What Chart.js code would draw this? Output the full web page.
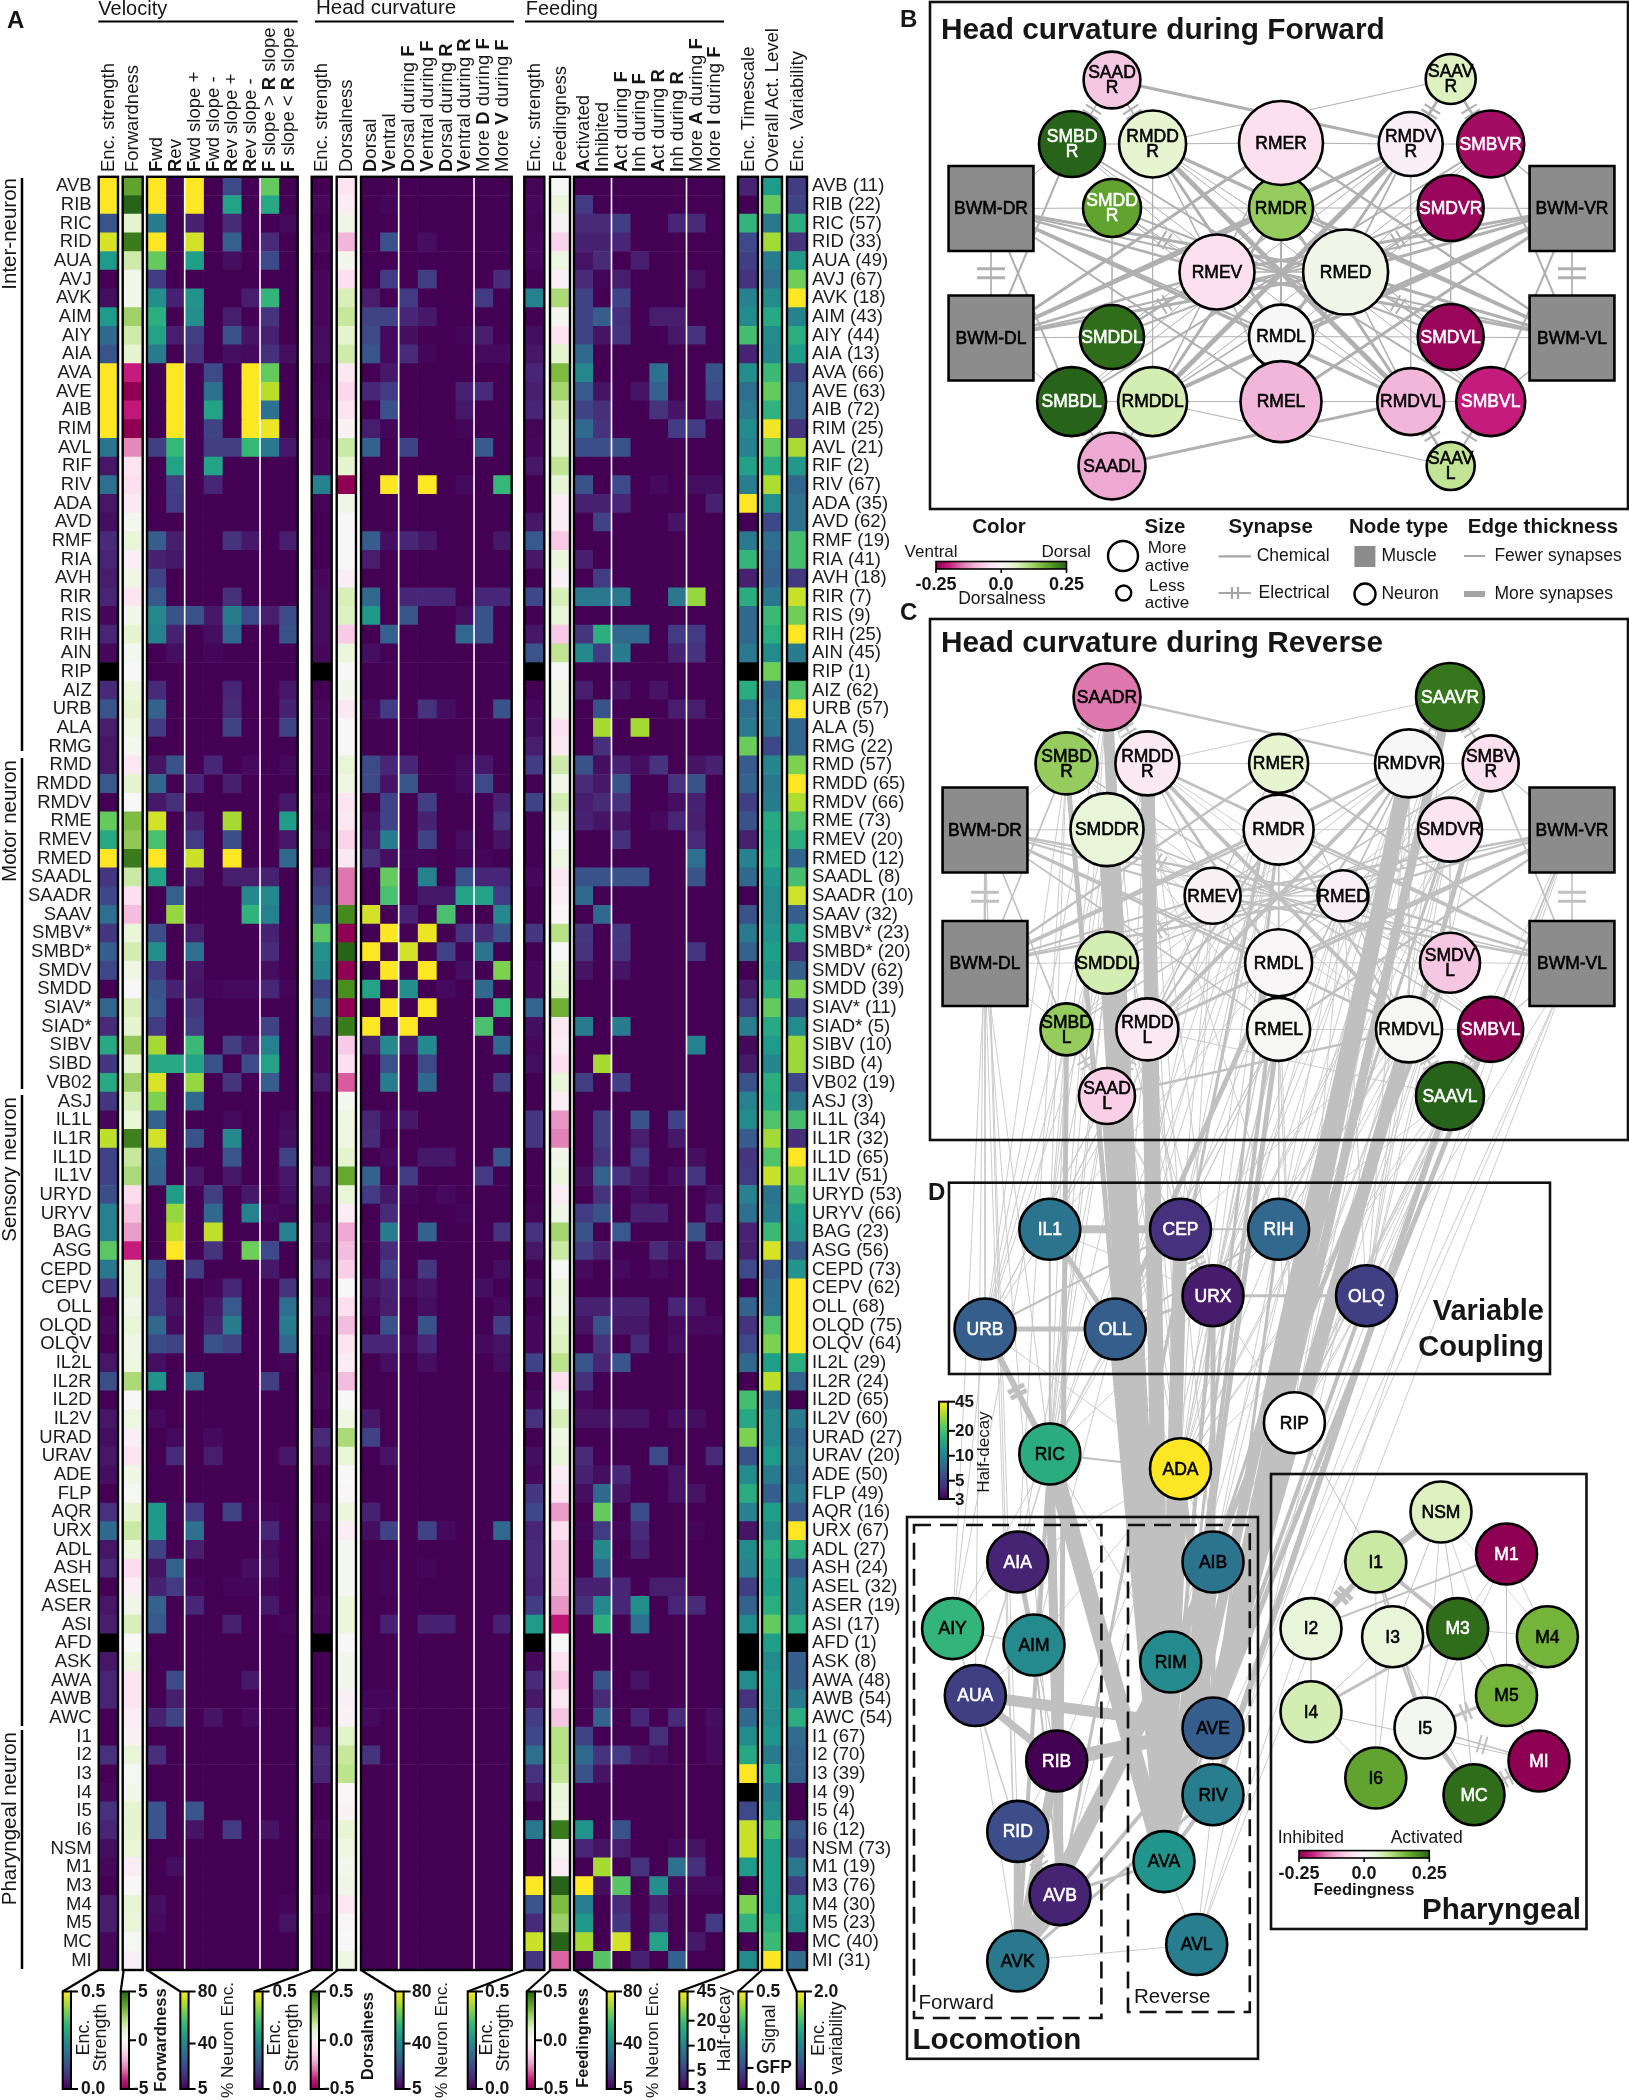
<!DOCTYPE html>
<html><head><meta charset="utf-8">
<script src="https://cdn.jsdelivr.net/npm/chart.js@4"></script>
<style>
html,body{margin:0;padding:0;background:#fff}
#page{position:relative;width:1629px;height:2100px;overflow:hidden;font-family:'Liberation Sans',Arial,sans-serif;color:#161616}
canvas{position:absolute}
.t{position:absolute;left:0;top:0;white-space:nowrap;line-height:1;transform-origin:0 0}
</style></head><body><div id="page"></div>
<script>
/* ---------- neurons ---------- */
const neuronNames=['AVB','RIB','RIC','RID','AUA','AVJ','AVK','AIM','AIY','AIA','AVA','AVE','AIB','RIM','AVL','RIF','RIV','ADA','AVD','RMF','RIA','AVH','RIR','RIS','RIH','AIN','RIP','AIZ','URB','ALA','RMG',
'RMD','RMDD','RMDV','RME','RMEV','RMED','SAADL','SAADR','SAAV','SMBV*','SMBD*','SMDV','SMDD','SIAV*','SIAD*','SIBV','SIBD','VB02',
'ASJ','IL1L','IL1R','IL1D','IL1V','URYD','URYV','BAG','ASG','CEPD','CEPV','OLL','OLQD','OLQV','IL2L','IL2R','IL2D','IL2V','URAD','URAV','ADE','FLP','AQR','URX','ADL','ASH','ASEL','ASER','ASI','AFD','ASK','AWA','AWB','AWC',
'I1','I2','I3','I4','I5','I6','NSM','M1','M3','M4','M5','MC','MI'];
const neuronCounts=[11,22,57,33,49,67,18,43,44,13,66,63,72,25,21,2,67,35,62,19,41,18,7,9,25,45,1,62,57,5,22,
57,65,66,73,20,12,8,10,32,23,20,62,39,11,5,10,4,19,
3,34,32,65,51,53,66,23,56,73,62,68,75,64,29,24,65,60,27,20,50,49,16,67,27,24,32,19,17,1,8,48,54,54,
67,70,39,9,4,12,73,19,76,30,23,40,31];

/* ---------- single-column heat values (null = no data, drawn black) ---------- */
const velEnc=[.5,.5,.13,.47,.27,0,.02,.27,.17,.13,.5,.5,.5,.5,.19,.03,.18,.03,.02,.06,.05,.04,.05,.01,.05,.01,null,.06,.13,.04,.03,
.03,.14,0,.38,.3,.5,.08,.11,.18,.08,.15,.11,0,.16,.06,.3,.08,.3,
.08,.01,.45,.1,.1,.12,.22,.22,.37,.2,.08,0,.01,0,.03,.12,0,.03,.02,.03,.02,0,.07,.17,.03,.06,0,.03,.04,null,.03,.05,.05,0,
0,.07,0,.01,.07,.05,.02,.01,0,.04,.04,.01,.01];
const forwardness=[3.6,5,1,4.5,1.5,.3,.3,2.4,1.5,1,-4,-5,-4.1,-5,-2.7,-.8,-1,-.6,.2,.8,-.4,.5,-.8,.3,1,.2,0,.7,1,.6,.2,
-.7,1,0,3,2.7,4.5,1.6,-1,-1.8,.8,1.4,.5,0,1.3,1,2.7,1,2.5,
1.3,.8,4.4,1.7,2.2,-1.1,-1.7,-2.4,-4,.9,.9,.4,.8,.4,.6,2.2,0,.6,-.4,-.8,.5,.1,1,1.6,.7,-1.1,-.4,.4,1.3,0,.7,-.8,-.8,-.4,
-.2,.8,.1,.3,1,1,.8,-.5,0,.9,.8,.1,-.3];
const headEnc=[0,.01,0,.01,0,.01,.01,.01,.015,.02,0,.005,.01,0,.01,.01,.22,.005,0,0,0,.01,.015,.015,.015,.01,null,0,.01,.01,.01,
.01,0,.01,.005,.02,0,.07,.1,.15,.37,.25,.23,.1,.16,.08,.01,.01,.04,
0,0,0,0,.06,.02,.005,.03,.02,.05,.01,.03,.01,0,0,.01,.01,0,.06,.03,0,0,.02,.005,0,0,0,.01,.005,null,0,0,0,0,
.03,.06,.05,0,0,.01,0,0,0,.01,0,0,0];
const dorsalness=[-.08,-.05,.04,-.2,.03,-.1,.13,.17,.1,.15,-.06,-.12,-.08,-.02,.16,.1,-.5,.04,0,0,0,-.04,.13,.12,-.15,.07,0,.03,-.06,0,0,
.08,.05,-.08,-.06,-.13,-.06,-.3,-.3,.42,-.5,.5,-.5,.41,-.5,.45,-.15,-.1,-.33,
.02,.06,.05,.1,.35,.08,-.05,-.22,-.18,-.14,0,-.1,-.18,-.08,-.05,-.18,0,.05,.22,.08,0,-.01,.07,-.05,.02,.02,.02,.07,.07,0,.03,.03,-.03,-.02,
.11,.17,.19,-.01,-.02,.09,.05,.03,.04,-.07,-.01,0,.06];
const feedEnc=[.005,.01,.005,.01,.01,0,.22,0,.02,.03,.05,.04,.05,.005,.01,.03,0,0,.03,.14,.03,0,.11,0,.03,.13,null,0,.01,.02,.04,
.09,0,.1,0,0,0,.01,0,0,.08,0,.01,.01,.16,.02,.01,.02,0,
0,.08,.08,0,0,0,.005,.07,.03,0,.02,0,.01,.01,.1,0,.01,.07,0,.02,.01,.08,.11,.05,.06,.06,.05,.09,.27,null,.01,.06,.03,.09,
.11,.18,.07,.03,0,.2,0,0,.5,.13,.06,.46,.08];
const feedingness=[.01,.07,-.02,-.13,.06,-.03,.22,.02,-.08,.1,.3,.23,.14,.1,.09,.18,.09,-.05,-.05,-.15,.07,-.03,.13,.08,-.15,.18,0,.03,.03,-.09,-.06,
.15,.03,.14,.07,0,.06,-.06,-.03,-.01,.2,0,.07,.1,.33,-.06,-.05,-.1,.08,
-.05,-.25,-.28,.03,.07,-.05,.04,.23,.16,.01,.07,.04,.1,.12,.19,-.1,.06,.13,.05,.08,-.05,-.08,-.24,-.1,-.16,-.16,-.17,-.25,-.42,0,-.08,-.15,-.07,-.16,
.2,.2,.18,.08,.06,.45,.02,-.05,.5,.3,.25,.5,-.32];
const timescale=[3.9,3,17.5,5.5,5,4.5,10,11,20,3.9,11.5,8,9,11,10,14,9.5,45,3,9,18,3.8,16,7.5,7.5,9,null,16,8,9,24,
6.5,7,5,6,3.8,10,7.5,3,6,9,7,3,3.7,4.8,9.5,3.2,3.6,6,
10,11,6.5,4.6,4.8,10,8,3.9,3.8,5.5,3,7,4.5,5.5,7.5,3,20,15,26,6,11,16,10,3.5,11,10,5,7,11,null,null,11,4.5,7.5,
11,15,45,null,5.5,36,36,13,3,26,17,3,11];
const activity=[.27,.38,.2,.43,.21,.18,.24,.3,.24,.23,.34,.38,.32,.49,.38,.3,.44,.25,.11,.18,.16,.15,.2,.34,.31,.24,.39,.17,.2,.19,.11,
.23,.2,.21,.3,.29,.3,.26,.24,.24,.26,.28,.26,.3,.38,.3,.27,.23,.31,
.3,.36,.43,.36,.46,.19,.21,.34,.47,.14,.17,.18,.36,.4,.28,.45,.2,.24,.24,.27,.21,.15,.28,.24,.31,.29,.28,.31,.38,.28,.24,.26,.25,.24,
.26,.21,.3,.21,.24,.35,.28,.28,.28,.27,.31,.34,.5];
const variability=[.36,.4,1.24,.3,1.06,1.56,2,.9,1.24,1.1,.4,.64,.64,.3,1.74,1.06,.66,.76,.76,1.4,1.4,.34,1.84,1.56,2,.84,null,1.44,2,.66,.66,
1.6,2,1.76,1.44,1.24,.66,1.4,1.86,.6,1.16,.24,.6,1.6,.4,.96,1.7,1.7,.44,
.8,1.4,.26,2,1.64,1.4,1.1,1.04,.56,1.04,2,2,2,2,1.24,.64,0,.84,.66,.76,.66,.84,.56,2,1.24,.56,.9,.9,1.24,null,.6,.6,.84,1.24,
.7,.64,.64,0,0,.56,.4,.8,.36,1.04,.96,0,.7];

/* ---------- % neuron encoding, one row per neuron, eight columns ---------- */
const z=[0,0,0,0,0,0,0,0];
const velPct=[
[80,0,80,0,22,0,62,0],[80,0,80,0,48,0,50,0],[36,0,12,0,14,0,0,7],[80,0,75,0,28,0,14,0],[62,0,47,0,8,0,22,0],
[18,0,0,0,0,0,0,0],[42,12,43,0,0,11,54,0],[52,0,42,0,11,0,16,0],[48,11,19,0,24,9,12,0],[36,0,16,0,8,7,15,8],
[0,80,0,22,0,80,62,0],[0,80,0,33,0,80,72,0],[0,80,0,48,0,80,33,0],[0,80,0,20,0,80,78,0],[19,55,0,19,19,55,35,10],
[0,48,0,48,0,0,0,0],[0,19,0,13,0,0,0,0],[0,18,0,0,0,0,0,0],z,[27,11,0,0,16,10,0,11],
[12,10,0,0,0,0,0,0],[20,0,0,0,0,0,0,0],[26,0,0,0,15,0,0,0],[40,24,24,10,36,22,11,22],[38,12,0,8,30,0,0,24],
[0,8,0,6,0,0,0,0],z,[14,0,0,0,13,0,0,10],[28,0,0,0,14,0,0,12],[18,0,0,0,20,0,0,20],z,
[9,24,0,13,0,7,0,7],[30,0,13,0,11,0,0,0],[10,15,0,0,0,0,0,10],[75,0,12,0,70,0,0,46],[58,0,18,0,23,0,0,10],
[80,0,74,0,80,0,0,30],[48,0,11,0,11,11,12,0],[0,28,0,0,0,40,40,0],[0,68,0,0,0,53,38,0],[23,0,11,0,0,0,12,0],
[42,0,33,0,0,0,14,0],[18,0,10,0,0,0,8,0],[24,12,9,6,7,7,13,6],[26,0,17,0,0,0,0,0],[18,0,19,0,0,0,20,0],
[70,0,56,0,19,10,38,0],[50,50,48,24,0,22,48,0],[76,0,68,0,16,0,27,0],
[65,0,30,0,0,0,0,0],[28,5,0,5,7,0,0,7],[75,0,24,0,40,0,0,8],[30,0,0,0,25,0,0,20],[28,0,10,0,10,0,0,10],
[0,46,0,19,0,10,0,8],[0,68,0,30,0,38,7,6],[0,73,0,73,0,0,0,38],[0,80,0,16,0,63,22,0],[24,0,19,0,0,0,10,0],
[18,0,0,6,13,0,0,16],[18,9,0,10,26,0,0,32],[30,7,0,12,36,0,0,36],[22,20,0,24,20,0,0,30],[8,0,0,0,0,0,0,6],
[43,0,30,0,0,0,19,0],z,[7,0,0,0,0,0,0,0],[0,7,0,7,0,0,0,0],[0,14,0,11,0,0,0,10],
z,z,[45,6,18,0,20,6,6,0],[45,0,33,0,0,0,13,0],[20,0,11,0,0,0,8,0],
[9,28,0,0,0,8,9,0],[12,18,6,0,6,6,6,0],[28,0,13,0,0,0,10,0],[26,0,0,0,12,0,0,6],z,
z,[0,22,0,0,0,10,0,0],[0,11,0,0,0,0,0,0],[12,20,0,9,0,7,0,0],
z,[15,0,0,0,0,0,0,0],z,z,[25,0,25,0,0,0,0,0],[25,0,9,0,18,0,9,0],z,[0,8,0,0,0,0,0,0],z,
[8,0,0,0,5,0,0,6],[7,0,0,0,0,0,0,9],z,z];
const headPct=[
z,[0,6,0,0,0,0,0,0],z,[0,24,0,8,0,0,0,0],[4,0,3,0,0,0,3,0],
[0,18,0,19,0,0,0,14],[11,0,18,0,0,0,18,0],[20,20,13,10,0,0,0,5],[22,7,8,0,0,6,11,0],[25,7,14,6,0,0,7,7],
[0,10,0,0,0,3,0,0],[13,18,3,0,0,12,14,0],[0,24,0,0,0,10,0,0],[11,6,0,0,0,6,0,0],[28,0,20,0,0,0,26,0],
z,[0,80,0,80,0,7,0,55],z,z,[27,8,13,10,0,0,0,10],
[11,0,0,0,0,0,0,0],z,[30,0,13,13,13,0,13,13],[45,0,25,0,0,8,24,0],[0,28,0,0,0,30,24,0],
[8,0,3,0,0,0,0,0],z,[4,0,0,0,0,0,0,0],[7,18,0,16,8,0,0,24],z,z,
[22,13,13,0,0,7,10,0],[22,9,25,0,0,7,22,0],[0,20,0,19,0,0,0,12],[8,20,0,12,0,0,0,16],[10,36,0,20,0,8,0,9],
[15,8,6,6,0,6,6,0],[0,62,0,38,0,24,13,13],[0,58,0,10,10,48,48,18],[75,0,12,0,58,0,0,40],[0,80,0,78,0,16,14,24],
[80,0,75,0,20,0,34,0],[0,80,0,80,0,8,0,65],[48,0,42,0,7,0,30,0],[0,80,0,80,0,0,0,55],[80,0,80,0,0,0,58,0],
[11,40,10,40,0,0,0,30],[0,24,0,22,0,0,0,0],[0,36,0,30,0,0,0,19],
z,[13,7,10,5,0,0,0,0],[14,0,0,0,0,0,0,0],[0,7,0,10,10,0,0,25],[28,0,18,0,4,4,18,0],
[18,10,6,0,7,5,0,0],[0,14,0,0,0,6,0,0],[0,36,0,28,0,0,0,16],[0,14,0,0,0,0,0,0],[0,20,0,17,0,0,0,8],
[9,12,7,9,0,4,8,0],[7,11,0,8,0,0,0,7],[0,24,0,24,0,0,0,19],[13,13,7,13,4,0,7,9],[0,8,0,8,0,0,0,8],
z,z,[10,4,0,0,0,0,0,0],[20,0,0,0,0,0,0,0],[0,9,0,0,0,0,0,0],
z,z,[12,0,3,0,3,0,0,0],[8,20,0,20,7,0,0,30],z,
[0,6,0,6,0,0,0,0],[0,6,0,0,0,0,0,0],z,[3,12,0,12,12,3,0,12],z,
z,z,[6,6,0,0,0,0,0,0],[7,4,0,0,0,0,0,0],
z,[16,0,0,0,0,0,0,0],z,z,z,z,z,z,[3,0,0,0,0,0,0,0],z,z,z,z];
const feedPct=[
z,[18,0,0,0,0,0,0,0],[14,14,19,0,0,13,14,0],[12,12,13,0,0,0,0,0],[9,14,0,11,0,0,0,0],
[14,6,11,0,0,0,9,0],[20,0,20,0,0,0,0,0],[20,27,15,0,11,11,0,0],[20,9,16,0,0,10,16,0],[30,0,0,0,0,0,0,0],
[40,0,0,0,33,0,0,24],[26,9,0,9,28,0,0,22],[20,15,0,0,16,9,0,12],[30,16,0,0,0,18,18,0],[23,23,24,0,0,0,0,0],
z,[24,0,22,0,7,0,8,8],[12,12,13,0,0,0,0,12],[0,20,0,0,0,9,0,0],z,
[11,0,0,0,0,0,0,0],[0,18,0,0,0,0,0,0],[35,35,35,0,0,35,68,0],z,[17,52,30,30,0,18,18,0],
[40,18,36,0,0,12,16,0],z,[11,0,9,0,9,0,0,0],[0,24,0,0,0,11,11,0],[0,70,0,70,0,0,0,0],[0,15,0,0,0,0,0,0],
[24,8,12,8,16,0,9,12],[14,10,24,0,0,16,24,0],[11,14,16,0,0,8,12,0],[12,9,9,0,7,13,11,0],[0,0,15,0,0,0,14,0],
[0,0,0,0,0,0,32,0],[24,24,24,24,0,0,24,0],[30,0,0,0,0,0,0,0],[0,30,0,0,0,0,0,0],[17,0,17,0,0,0,0,0],
[16,0,16,0,0,0,17,0],[9,0,9,0,0,0,0,0],z,z,[36,0,36,0,0,0,0,0],
[0,0,0,0,0,0,38,0],[0,70,0,0,0,0,0,0],[19,0,19,0,0,0,0,0],
z,[0,19,0,24,0,20,0,0],[0,19,0,11,0,10,0,0],[0,16,0,18,0,0,8,0],[8,28,16,10,0,8,17,0],
[0,16,0,8,0,0,0,8],[18,24,0,12,12,0,0,13],[24,0,26,0,0,0,24,0],[18,12,0,0,14,8,0,14],[7,0,7,0,7,0,0,0],
[5,5,0,0,0,0,0,0],[12,12,12,12,0,13,10,0],[9,24,10,10,5,7,7,7],[0,16,0,14,0,8,0,0],[25,13,25,0,0,0,0,0],
[15,0,0,0,0,0,0,0],[7,0,0,0,0,0,0,0],[9,9,9,9,0,8,8,0],z,[14,0,0,0,22,0,0,14],
[12,8,13,0,0,9,0,0],[8,30,9,0,0,9,9,0],[0,62,0,22,0,0,0,0],[6,18,6,14,0,0,6,0],[0,40,0,12,0,0,0,0],
[0,30,0,0,0,0,0,0],[12,12,13,0,11,11,0,0],[15,40,13,42,0,13,14,0],[0,52,0,32,0,0,0,0],z,
z,[0,24,0,9,0,0,0,0],[0,14,0,0,0,0,0,0],[0,28,0,13,0,14,0,8],
[20,0,0,0,15,0,0,7],[30,16,18,10,8,0,0,7],[24,9,0,0,0,0,0,0],z,z,[44,0,24,0,0,0,0,0],[13,9,11,0,0,7,9,0],
[0,70,0,16,0,33,15,0],[80,8,60,0,42,7,7,7],[37,0,14,0,12,0,0,0],[45,0,17,0,15,0,0,18],[70,0,75,0,48,0,10,0],[0,60,0,12,0,28,0,0]];

/* ---------- column headers ---------- */
const velLabels=['<b>F</b>wd','<b>R</b>ev','<b>F</b>wd slope +','<b>F</b>wd slope -','<b>R</b>ev slope +','<b>R</b>ev slope -','<b>F</b> slope &gt; <b>R</b> slope','<b>F</b> slope &lt; <b>R</b> slope'];
const headLabels=['<b>D</b>orsal','<b>V</b>entral','<b>D</b>orsal during <b>F</b>','<b>V</b>entral during <b>F</b>','<b>D</b>orsal during <b>R</b>','<b>V</b>entral during <b>R</b>','More <b>D</b> during <b>F</b>','More <b>V</b> during <b>F</b>'];
const feedLabels=['<b>A</b>ctivated','<b>I</b>nhibited','<b>A</b>ct during <b>F</b>','<b>I</b>nh during <b>F</b>','<b>A</b>ct during <b>R</b>','<b>I</b>nh during <b>R</b>','More <b>A</b> during <b>F</b>','More <b>I</b> during <b>F</b>'];

/* ---------- network nodes: graph coordinates, size, colour value ---------- */
const bNames=['SAAD|R','SMBD|R','RMDD|R','SMDD|R','RMDR','RMER','RMEV','RMED','RMDL','RMEL','SMDDL','SMBDL','RMDDL','SAADL','SAAV|R','RMDV|R','SMBVR','SMDVR','SMDVL','RMDVL','SMBVL','SAAV|L'];
const bX=[1112,1072,1152.6,1112,1281,1281,1217,1345.6,1281,1281,1112,1071.6,1152.6,1112,1450.7,1410.7,1490.7,1450.7,1450.7,1410.7,1490.7,1450.7];
const bY=[80,144,144,208,208,143,272,272,336.6,401.6,337,401.6,401.6,466,79,144,144,208,337,401.6,401.6,466];
const bR=[28.4,33,33.5,29,32,42,37.5,42.5,32,40.5,32,34.5,34.5,33.5,25,32,33.5,33,33,33.5,34.5,24];
const bDorsal=[-.08,.25,.05,.18,.13,-.05,-.05,.02,0,-.1,.24,.25,.07,-.11,.06,-.02,-.23,-.24,-.24,-.1,-.2,.09];
const bWhite=['SMBDR','SMDDR','SMDDL','SMBDL','SMBVR','SMDVR','SMDVL','SMBVL'];
const cNames=['SAADR','SAAVR','SMBD|R','RMDD|R','RMER','RMDVR','SMBV|R','SMDDR','RMDR','SMDVR','RMEV','RMED','SMDDL','RMDL','SMDV|L','SMBD|L','RMDD|L','RMEL','RMDVL','SMBVL','SAAD|L','SAAVL'];
const cX=[1107,1450,1066.5,1147.4,1278.6,1409,1490.7,1107,1278.6,1450,1212.6,1343,1107,1278.6,1450,1066.5,1147.4,1278.6,1409,1490.7,1107,1450];
const cY=[697,697,763.4,763.4,763.4,763.4,763.4,829.6,829.6,829.6,895.8,895.8,962.8,962.8,962.8,1029.4,1029.4,1029.4,1029.4,1029.4,1096,1096];
const cR=[33.5,34,31,32,29.5,34,28,36.5,35,32,28,25.5,31,33.5,30,26,31,31.5,33,32.5,28,34];
const cDorsal=[-.15,.23,.13,-.03,.05,0,-.05,.04,-.01,-.04,-.01,-.02,.07,-.005,-.08,.13,-.03,.003,.003,-.25,-.07,.25];
const cWhite=['SAAVR','SAAVL','SMBVL'];
const muscleNames=['BWM-DR','BWM-DL','BWM-VR','BWM-VL'];
const muscleXB=[991,991,1572,1572], muscleYB=[208.5,338,208.5,338];
const muscleXC=[985,985,1572,1572], muscleYC=[830,963.5,830,963.5];
const dNames=['IL1','CEP','RIH','URX','OLQ','URB','OLL','RIC','ADA','RIP','AIA','AIY','AIM','AUA','RIB','RID','AVB','AVK','AIB','RIM','AVE','RIV','AVA','AVL'];
const dX=[1049.8,1180.5,1278.6,1213,1366.5,985,1115.3,1049.8,1180.5,1294.4,1017.7,952.6,1034,975.3,1056.7,1017.7,1060,1017.7,1213,1170.7,1213,1213,1164,1196.7];
const dY=[1229.3,1229.3,1229.3,1295.7,1295.7,1329,1329,1454,1468.7,1422.7,1562,1628.6,1645,1695.5,1761,1831.4,1894.7,1961,1562,1662,1728,1794.7,1861.6,1944.5];
const dHalf=[8.4,4.4,7.3,3.7,5,6.7,6.7,16,45,null,3.9,17.5,10.9,5,3,5.7,3.9,8.9,8.4,10.9,6.7,9.4,12.3,9.4];
const dWhite=['IL1','CEP','RIH','URX','OLQ','URB','OLL','AIA','AUA','RIB','RID','AVB'];
const pNames=['NSM','M1','I1','I2','M3','I3','M4','M5','I4','I5','MI','I6','MC'];
const pX=[1441,1506.5,1375.8,1311,1457.7,1392.6,1547.4,1506.5,1311,1425,1539,1375.8,1474];
const pY=[1512,1554,1562,1628.6,1628.6,1636.7,1636.7,1695.5,1711.8,1728,1761,1778,1794.7];
const pFeed=[.06,-.25,.08,.04,.24,.04,.16,.16,.07,.01,-.25,.18,.24];
const pWhite=['M1','M3','MI','MC'];

/* ---------- network edges: [from, to, thickness, electrical flag] ---------- */
const edgesHead=[
['SAADR','RMDVR',3],['SAADL','RMDVL',3],['SAAVR','RMDDR',1],['SAAVL','RMDDL',1],
['RMDDR','RMER',1],['RMER','RMDVR',1],['BWM-DR','SMDDR',1.2],['SMDDR','RMDR',1],['RMDR','SMDVR',1],['SMDVR','BWM-VR',1.2],
['RMEV','RMED',1.5],['BWM-DL','SMDDL',1],['SMDDL','RMDL',1],['RMDL','SMDVL',1],['SMDVL','BWM-VL',1],['RMDDL','RMEL',1],['RMEL','RMDVL',1],
['RMDDR','RMDDL',.8],['RMDVR','RMDVL',.8],['RMDR','RMDL',2],['SMDDR','SMDDL',.8],['SMDVR','SMDVL',.8],['SMBDR','RMDDR',1],['SMBVR','RMDVR',1],['SMBDL','RMDDL',1],['SMBVL','RMDVL',1],
['BWM-DR','BWM-DL',1,1],['BWM-VR','BWM-VL',1,1],['SAADR','SMBDR',1.5,1],['SAADR','RMDDR',1.5,1],['SAAVR','RMDVR',3,1],['SAAVR','SMBVR',2.5,1],['SAADL','SMBDL',1.5,1],['SAADL','RMDDL',1.5,1],['SAAVL','RMDVL',2.5,1],['SAAVL','SMBVL',2,1],
['RMEV','SMDDL',1.5,1],['RMED','SMDVL',1.5,1],['RMEV','SMDDR',1,1],['RMED','SMDVR',1,1],['RMDDR','RMEL',1.5,1],['RMDVR','RMEL',1.5,1],
['RMDDR','RMDVL',5],['RMDDL','RMDVR',5],['SMBDR','SMBVL',2],['SMBDL','SMBVR',2],['SMDDR','SMDVL',2],['SMDDL','SMDVR',2],['BWM-DR','BWM-VL',2],['BWM-DL','BWM-VR',2],
['RMDVR','BWM-DL',4],['RMDVL','BWM-DR',3.5],['RMDDR','BWM-VL',3.5],['RMDDL','BWM-VR',4],
['RMER','BWM-DL',3],['RMEL','BWM-DR',2],['RMER','BWM-VL',2.5],['RMEL','BWM-VR',3],
['RMEV','BWM-VR',3],['RMEV','BWM-VL',3],['RMEV','BWM-DR',2.5],['RMEV','BWM-DL',2.5],['RMED','BWM-DR',3],['RMED','BWM-DL',3],['RMED','BWM-VR',3],['RMED','BWM-VL',3],
['RMDR','BWM-DL',3],['RMDR','BWM-VL',2],['RMDL','BWM-DR',2],['RMDL','BWM-VR',3],
['SMBDR','BWM-DL',2],['SMBDL','BWM-DR',2],['SMBVR','BWM-VL',2],['SMBVL','BWM-VR',2],['SMBDR','BWM-DR',1],['SMBDL','BWM-DL',1],['SMBVR','BWM-VR',1.5],['SMBVL','BWM-VL',1.5],
['RMDR','RMDVL',3],['RMDL','RMDVR',3],['RMDR','RMDDL',3],['RMDL','RMDDR',3],['RMER','RMDVL',1.5],['RMEL','RMDVR',1.5],['RMER','RMDDL',1.5],
['SMDDR','RMDL',1],['SMDVR','RMDL',1],['SMDDL','RMDR',1],['SMDVL','RMDR',1],['SMBDR','RMDVL',1],['SMBVR','RMDDL',1],['SMBDL','RMDVR',1],['SMBVL','RMDDR',1],
['SMDDR','RMDVL',1],['SMDVR','RMDDL',1.5],['SMDDL','RMDVR',1.5],['SMDVL','RMDDR',1],['SMBDR','RMEV',1],['SMBVR','RMED',1],['SMBDL','RMEV',1],['SMBVL','RMED',1]];
const edgesBundle=[
['SAADR','AVA',11],['SMDDR','AVA',18],['SMDDL','AVA',15],['SAADL','AVA',13],['RMDDR','AVA',14],['RMDDL','AVA',12],['SMBDR','AVA',5],['SMBDL','AVB',5],
['RMDVR','AVE',16],['RMDVR','AVA',10],['RMDVL','AVA',9],['RMDVL','AVE',12],['SAAVR','AVE',9],['SAAVL','RIV',6],['SMBVR','AVE',5],['SMBVL','AVE',5],['SMDVL','AIB',5],['SMDVR','AIB',3],
['RMDR','AVA',3],['RMDL','AVA',4],['RMEL','AVA',5],['RMER','AVB',3],['RMDL','OLL',5],['CEP','AVA',14],['IL1','CEP',8],['URB','OLL',5],['IL1','OLL',5],['OLL','URX',3],
['URB','RIC',6,1],['IL1','RIC',2],['RIC','AVK',4],['RIC','AVB',9],['RIC','RIB',8],['RIC','AVA',17],['AIA','AIM',5],['AIM','AVB',2],
['AUA','AVE',11],['RIB','AVE',14],['AUA','RIB',8],['AIB','AVA',18],['AIB','RIM',10],['RIM','AVE',6],['RIM','AVK',16],['RIB','AVK',10],['RID','AVK',8],['RID','AVB',2,1],['AVB','AVK',5],['AVB','RIM',3],['AVE','AVK',4],['RIV','AVK',3],['AIB','AVK',3],['AVB','AVA',3],['RIV','AVA',4],['RIM','AVA',16],
['OLQ','URX',3],['CEP','RIH',2],['CEP','URX',3,1],['URB','CEP',2],['RIH','OLL',2,1],['URX','AVE',5],['OLL','AVA',14],['URX','AVA',4],['RIH','AVE',3],['OLQ','AVE',4],['OLQ','AVA',2],['RIP','AVE',4],['RIP','AVA',3],['ADA','AVE',6],['ADA','AVA',16],['ADA','RIC',2],['ADA','RIM',3]];
const thinFans=[
['BWM-DR','AVK','RID','AUA','URB'],['BWM-DL','AVK','AVB','RIC','AIY'],['BWM-VR','AVE','RIV','AVL','RIP'],['BWM-VL','RIV','AVL','AVA','OLQ'],
['SMBDR','RMEL','URB','IL1','OLL','AIA'],['SMBDL','IL1','CEP','RIC','AIY'],['SMBVR','URX','RIH','OLQ','RIP'],['SMBVL','OLQ','AIB','RIM','ADA'],
['SMDDR','URB','IL1','CEP','OLL','RIC'],['SMDDL','URB','OLL','CEP','URX','RIC','ADA','AIM'],['SMDVR','RIH','OLQ','URX','RIP','AVL'],['SMDVL','URX','RIH','OLQ','RIP','ADA','AVA'],
['SAADR','IL1','URB','RIC','ADA','RMDL','RIH'],['SAADL','OLL','URB','RIC','CEP','ADA','AIA'],['SAAVR','RIH','OLQ','URX','RIP','RIM'],['SAAVL','RIH','OLQ','RIP','ADA','AVA','RIM'],
['RMDDR','URB','IL1','CEP','URX','OLL','ADA'],['RMDDL','IL1','CEP','OLL','URX','RIC','ADA'],['RMDVR','RIH','CEP','URX','OLQ','RIP','ADA','AIB'],['RMDVL','RIH','CEP','OLQ','RIP','ADA','AIB','RIM'],
['RMER','CEP','IL1','RIH','OLL','ADA','RIC'],['RMEL','CEP','OLL','URX','ADA','RIC','RIP','AVB'],['RMEV','URB','IL1','OLL','CEP','ADA'],['RMED','OLQ','URX','RIH','RIP','ADA'],
['RMDR','IL1','RIH','URX','CEP','OLL','RIC'],['RMDL','IL1','RIH','URX','CEP','RIP','ADA'],
['IL1','URB','URX','ADA'],['URB','ADA','AIY'],['OLL','RIC','ADA','CEP','RIH','AIM'],['CEP','ADA','RIC','AIB'],['URX','RIH','ADA','RIP'],['RIH','OLQ','RIP','ADA','AIB','RIC'],['OLQ','RIP','ADA','RIM'],
['RIC','ADA','AIA','AIM','AUA','AIY','RIM'],['ADA','AIB','AIA','AIM','RIB'],['AIA','AIY','AUA','RIB'],['AIY','AIM','AUA','RID'],['AIM','AUA','RIB'],['AUA','RID','AVK'],['RIB','RID','AVB'],['AVK','AVL'],['AVA','AVL'],['RIV','AVL','AVE']];
const edgesPharynx=[
['I1','NSM',6],['I2','I1',6,1],['NSM','I3',1],['NSM','M3',1],['NSM','I5',.8],['NSM','M5',.8],['I1','M3',4],['I1','I5',2],['I1','I3',1.5],['I2','M1',2],['I2','I4',.8],['I4','M3',3],['I4','I3',1],['I4','MI',1],['I4','I6',.8],['I3','I6',.8],['I3','I5',3],['I3','MC',1],['I3','M3',1],
['I5','M5',3,1],['I5','MC',5],['I5','MI',1.5,1],['I5','M3',1],['M3','M5',1],['M5','M4',3,1],['M1','M5',1],['M1','M4',.8],['M1','M3',.8],['M5','MI',1],['MC','MI',3,1],['I6','I5',.8],['M3','MC',1],['M3','M4',.8],['I5','M1',.8],['I6','I1',.8],['NSM','M4',.6]];
const edgesOutside=[['RIP','I1',1]];

/* ---------- colour maps ---------- */
const viridisStops=['#440154','#482878','#3e4989','#31688e','#26828e','#1f9e89','#35b779','#6ece58','#b5de2b','#fde725'];
const piygStops=['#8e0152','#c51b7d','#de77ae','#f1b6da','#fde0ef','#f7f7f7','#e6f5d0','#b8e186','#7fbc41','#4d9221','#276419'];
const hex=h=>[1,3,5].map(i=>parseInt(h.substr(i,2),16));
function ramp(stops,t){t=Math.max(0,Math.min(1,t));const p=t*(stops.length-1),i=Math.min(stops.length-2,Math.floor(p)),f=p-i,a=hex(stops[i]),b=hex(stops[i+1]);
  return 'rgb('+a.map((v,k)=>Math.round(v+(b[k]-v)*f)).join(',')+')';}
const KIND={
 enc:{s:viridisStops,n:v=>v/.5},fwd:{s:piygStops,n:v=>(v+5)/10},pct:{s:viridisStops,n:v=>(v-5)/75},dor:{s:piygStops,n:v=>v+.5},
 half:{s:viridisStops,n:v=>Math.log(v/3)/Math.log(15)},sig:{s:viridisStops,n:v=>v/.5},vari:{s:viridisStops,n:v=>v/2},leg:{s:piygStops,n:v=>(v+.25)/.5}};
const colorOf=(k,v)=>v===null||v===undefined?'#000':ramp(KIND[k].s,KIND[k].n(v));

/* ---------- page helpers ---------- */
const page=document.getElementById('page');
function T(html,x,y,o={}){const e=document.createElement('div');e.className='t';e.innerHTML=html;
  const a={l:0,c:50,r:100}[o.a||'l'];e.style.fontSize=(o.s||18)+'px';if(o.b)e.style.fontWeight='bold';if(o.col)e.style.color=o.col;
  e.style.transform=`translate(${x}px,${y}px) rotate(${o.rot?-90:0}deg) translate(${-a}%,-50%)`;e.style.zIndex=5;page.appendChild(e);return e;}
function makeCanvas(x,y,w,h,z){const c=document.createElement('canvas');c.width=w;c.height=h;c.style.left=x+'px';c.style.top=y+'px';c.style.width=w+'px';c.style.height=h+'px';c.style.zIndex=z||1;page.appendChild(c);return c;}
Chart.defaults.font.family="'Liberation Sans',Arial,sans-serif";

/* ---------- heat panels ---------- */
const TOP=176.8,BOT=1970,M=4;
const panelFrame={id:'panelFrame',afterDatasetsDraw(ch){const a=ch.chartArea,c=ch.ctx,x=ch.scales.x;c.save();
  if(x.max===8){c.strokeStyle='#fff';c.lineWidth=1.6;[2,6].forEach(v=>{const p=x.getPixelForValue(v);c.beginPath();c.moveTo(p,a.top);c.lineTo(p,a.bottom);c.stroke();});}
  c.strokeStyle='#000';c.lineWidth=2.4;c.strokeRect(a.left,a.top,a.right-a.left,a.bottom-a.top);c.restore();}};
function heat(x0,x1,kind,cols,side){
  cols.forEach(col=>{if(col.length!==neuronNames.length)throw new Error('bad column length '+col.length);});
  const leftW=side==='left'?x0:M,rightW=side==='right'?142:M;
  const cx=Math.floor(x0-leftW),cw=Math.ceil(leftW+(x1-x0)+rightW);
  const cv=makeCanvas(cx,Math.floor(TOP-M),cw,Math.ceil(BOT-TOP+2*M)+1,1);
  const labels=side==='right'?neuronNames.map((n,i)=>n+' ('+neuronCounts[i]+')'):neuronNames;
  const yAxis=side?{type:'category',labels,position:side,display:true,grid:{display:false,drawTicks:false},border:{display:false},
      afterFit(s){s.width=side==='left'?x0-cx:(cx+cw-x1);s.paddingTop=0;s.paddingBottom=0;},
      ticks:{autoSkip:false,padding:side==='left'?7:5,maxRotation:0,minRotation:0,color:'#1c1c1c',font:{size:18.5}}}
    :{type:'category',labels,display:false};
  const ptop=TOP-Math.floor(TOP-M);
  new Chart(cv,{type:'bar',data:{labels,datasets:cols.map((col,c)=>({data:labels.map(()=>[c,c+1]),backgroundColor:col.map(v=>colorOf(kind,v)),borderWidth:0,grouped:false,barPercentage:1,categoryPercentage:1}))},
    options:{indexAxis:'y',responsive:false,animation:false,events:[],
      layout:{autoPadding:false,padding:{left:side==='left'?0:x0-cx,right:side==='right'?0:cx+cw-x1,top:ptop,bottom:Math.ceil(BOT-TOP+2*M)+1-ptop-(BOT-TOP)}},
      plugins:{legend:{display:false},tooltip:{enabled:false}},
      scales:{x:{type:'linear',min:0,max:cols.length,display:false},y:yAxis}},plugins:[panelFrame]});
}
const colsOf=m=>{m.forEach(r=>{if(r.length!==8)throw new Error('bad row');});return [0,1,2,3,4,5,6,7].map(c=>m.map(r=>r[c]));};
heat(98.7,118,'enc',[velEnc],'left');
heat(122.7,142.7,'fwd',[forwardness]);
heat(147,297.7,'pct',colsOf(velPct));
heat(311.7,331.7,'enc',[headEnc]);
heat(336.7,356,'dor',[dorsalness]);
heat(361,511.7,'pct',colsOf(headPct));
heat(524.3,544.3,'enc',[feedEnc]);
heat(550,570,'dor',[feedingness]);
heat(574,724,'pct',colsOf(feedPct));
heat(738,758,'half',[timescale]);
heat(762,782,'sig',[activity]);
heat(787,807,'vari',[variability],'right');

/* column headers */
const H=172;
[[108,'Enc. strength'],[132.7,'Forwardness'],[321.7,'Enc. strength'],[346.4,'Dorsalness'],[534.3,'Enc. strength'],[560,'Feedingness'],[748,'Enc. Timescale'],[772,'Overall Act. Level'],[797,'Enc. Variability']].forEach(([x,s])=>T(s,x,H,{rot:1,s:18.5}));
velLabels.forEach((s,i)=>T(s,147+18.82*(i+.5),H,{rot:1,s:18.5}));
headLabels.forEach((s,i)=>T(s,361+18.84*(i+.5),H,{rot:1,s:18.5}));
feedLabels.forEach((s,i)=>T(s,574+18.75*(i+.5),H,{rot:1,s:18.5}));
T('Velocity',98.3,7.5,{s:20});T('Head curvature',316,7.5,{s:20.5});T('Feeding',525.7,7.5,{s:20});
T('A',7,20,{s:24,b:1});T('B',900,19,{s:24,b:1});T('C',900,612,{s:24,b:1});T('D',928,1192,{s:24,b:1});
T('Inter-neuron',9,178,{rot:1,a:'r',s:20.5});T('Motor neuron',9,760,{rot:1,a:'r',s:20.5});T('Sensory neuron',9,1097,{rot:1,a:'r',s:20.5});T('Pharyngeal neuron',9,1732,{rot:1,a:'r',s:20.5});

/* colour bars under the panels */
const CY0=1991.5,CY1=2089;
const colorbars=[
 {x:62.7,k:'enc',ticks:[[.5,'0.5'],[0,'0.0']],lx:81},
 {x:120.7,k:'fwd',ticks:[[5,'5'],[0,'0'],[-5,'-5']],lx:138},
 {x:180.3,k:'pct',ticks:[[80,'80'],[40,'40'],[5,'5']],lx:197.7},
 {x:254.3,k:'enc',ticks:[[.5,'0.5'],[0,'0.0']],lx:272.5},
 {x:310.7,k:'dor',ticks:[[.5,'0.5'],[0,'0.0'],[-.5,'-0.5']],lx:329},
 {x:395.3,k:'pct',ticks:[[80,'80'],[40,'40'],[5,'5']],lx:412},
 {x:467.7,k:'enc',ticks:[[.5,'0.5'],[0,'0.0']],lx:485},
 {x:526.7,k:'dor',ticks:[[.5,'0.5'],[0,'0.0'],[-.5,'-0.5']],lx:543},
 {x:606.7,k:'pct',ticks:[[80,'80'],[40,'40'],[5,'5']],lx:623},
 {x:679.3,k:'half',ticks:[[45,'45'],[20,'20'],[10,'10'],[5,'5'],[3,'3']],lx:696.7},
 {x:738.3,k:'sig',ticks:[[.5,'0.5'],[.108,'GFP'],[0,'0.0']],lx:756},
 {x:796.7,k:'vari',ticks:[[2,'2.0'],[0,'0.0']],lx:814}];
colorbars.forEach(b=>b.ticks.forEach(([v,s])=>{const y=CY1-(CY1-CY0)*KIND[b.k].n(v);T(s,b.lx-(s[0]==='-'?5:0),y,{s:17.5,b:1});}));
const miniBar={x:939,y0:1401.7,y1:1499,w:9,k:'half',ticks:[[45,'45'],[20,'20'],[10,'10'],[5,'5'],[3,'3']]};
miniBar.ticks.forEach(([v,s])=>T(s,955,miniBar.y1-(miniBar.y1-miniBar.y0)*KIND.half.n(v),{s:17,b:1}));
T('Half-decay',983,1452,{rot:1,a:'c',s:17});
[[83,'Enc.'],[100,'Strength'],[274,'Enc.'],[291.7,'Strength'],[486,'Enc.'],[503,'Strength']].forEach(([x,s])=>T(s,x,2037.5,{rot:1,a:'c',s:18}));
[[227.7,'% Neuron Enc.'],[441.7,'% Neuron Enc.'],[652.7,'% Neuron Enc.']].forEach(([x,s])=>T(s,x,2040,{rot:1,a:'c',s:17.3}));
T('Forwardness',161.7,2040,{rot:1,a:'c',s:16.6,b:1});T('Dorsalness',366.7,2036,{rot:1,a:'c',s:16.3,b:1});T('Feedingness',581.7,2038,{rot:1,a:'c',s:16.3,b:1});
T('Half-decay',725,2029,{rot:1,a:'c',s:17.8});T('Signal',770,2029,{rot:1,a:'c',s:17.6});T('Enc.',818,2038,{rot:1,a:'c',s:18});T('variability',837,2038,{rot:1,a:'c',s:17.5});

/* network panel text */
T('Head curvature during Forward',941,29,{s:29.8,b:1});T('Head curvature during Reverse',941,642,{s:29.8,b:1});
T('Variable',1544,1310,{a:'r',s:29,b:1});T('Coupling',1544,1346,{a:'r',s:29,b:1});
T('Locomotion',912.6,2039,{s:29.5,b:1});T('Pharyngeal',1581,1909,{a:'r',s:29.5,b:1});
T('Forward',918.6,2002,{s:20.5});T('Reverse',1134,1996,{s:20.5});
T('Color',999,526,{a:'c',s:20.5,b:1});T('Size',1165,526,{a:'c',s:20.5,b:1});T('Synapse',1270.7,526,{a:'c',s:20.5,b:1});T('Node type',1398.6,526,{a:'c',s:20.5,b:1});T('Edge thickness',1543,526,{a:'c',s:20.5,b:1});
T('Ventral',904.6,551,{s:17});T('Dorsal',1090.7,551,{a:'r',s:17});
[[936,'-0.25'],[1001,'0.0'],[1066.5,'0.25']].forEach(([x,s])=>T(s,x,584,{a:'c',s:18,b:1}));
T('Dorsalness',1002,599,{a:'c',s:17.5});
T('More',1167,547,{a:'c',s:17});T('active',1167,565,{a:'c',s:17});T('Less',1167,585,{a:'c',s:17});T('active',1167,602,{a:'c',s:17});
T('Chemical',1256.7,556,{s:17.5});T('Electrical',1258.6,593,{s:17.5});T('Muscle',1381.4,556,{s:17.5});T('Neuron',1381.4,594,{s:17.5});
T('Fewer synapses',1494.4,556,{s:17.5});T('More synapses',1494.4,594,{s:17.5});
T('Inhibited',1277.7,1837.5,{s:17.5});T('Activated',1390.7,1837.5,{s:17.5});
[[1299,'-0.25'],[1364,'0.0'],[1429.3,'0.25']].forEach(([x,s])=>T(s,x,1873,{a:'c',s:18,b:1}));
T('Feedingness',1364,1889,{a:'c',s:16.5,b:1});

/* ---------- overlay chart holding the four networks ---------- */
const cv=makeCanvas(0,0,1629,2100,2);cv.style.pointerEvents='none';
const key=n=>n.replace('|','');
function table(names,xs,ys,extra){const m={};names.forEach((n,i)=>m[key(n)]={x:xs[i],y:ys[i]});return Object.assign(m,extra||{});}
const muscleTable=(xs,ys)=>table(muscleNames,xs,ys);
const tB=table(bNames,bX,bY,muscleTable(muscleXB,muscleYB));
const tD=table(dNames,dX,dY);
const tC=table(cNames,cX,cY,Object.assign(muscleTable(muscleXC,muscleYC),tD));
const tP=Object.assign(table(pNames,pX,pY),{RIP:tD.RIP});
const datasets=[];const elec=[];
function addEdges(list,t,color,scale){list.forEach(e=>{const a=t[e[0]],b=t[e[1]];if(!a||!b)throw new Error('edge node '+e[0]+' '+e[1]);
  datasets.push({type:'scatter',showLine:true,data:[{x:a.x,y:a.y},{x:b.x,y:b.y}],borderColor:color,borderWidth:e[2]*scale,pointRadius:0,order:3,clip:false});
  if(e[3])elec.push({a,b,color,w:e[0].startsWith('BWM')?3:Math.max(2,e[2]*scale*.8),hl:e[0].startsWith('BWM')?14:9,gap:e[0].startsWith('BWM')?9:6});});}
addEdges(edgesHead,tB,'#b0b0b0',1);
addEdges(edgesHead,tC,'#c0c0c0',.8);
addEdges(edgesBundle,tC,'#c0c0c0',1);
const thinEdges=[];thinFans.forEach(f=>f.slice(1).forEach(t=>thinEdges.push([f[0],t,.9])));
addEdges(thinEdges,tC,'#c6c6c6',1);
addEdges(edgesPharynx,tP,'#c0c0c0',1);
addEdges(edgesOutside,tP,'#c0c0c0',1);
const addNodes=(names,xs,ys,rs,cols,style)=>datasets.push({type:'bubble',data:names.map((n,i)=>({x:xs[i],y:ys[i],r:Array.isArray(rs)?rs[i]:rs})),backgroundColor:cols,borderColor:'#000',borderWidth:2.6,pointStyle:style||'circle',order:1,clip:false});
addNodes(muscleNames,muscleXB,muscleYB,60,'#8c8c8c','rect');
addNodes(muscleNames,muscleXC,muscleYC,60,'#8c8c8c','rect');
addNodes(bNames,bX,bY,bR,bDorsal.map(v=>colorOf('leg',v)));
addNodes(cNames,cX,cY,cR,cDorsal.map(v=>colorOf('leg',v)));
addNodes(dNames,dX,dY,30.5,dHalf.map(v=>v===null?'#fff':colorOf('half',v)));
addNodes(pNames,pX,pY,30.5,pFeed.map(v=>colorOf('leg',v)));
datasets[datasets.length-1].isFirstNodeSet=true;

const nodeLabels=[[bNames,bX,bY,bWhite],[cNames,cX,cY,cWhite],[dNames,dX,dY,dWhite],[pNames,pX,pY,pWhite],[muscleNames,muscleXB,muscleYB,[]],[muscleNames,muscleXC,muscleYC,[]]];
const connectors=[[98.7,62.7],[123.7,120.7],[147,180.3],[311.7,254.3],[337.7,310.7],[361,395.3],[524.3,467.7],[550.7,526.7],[575,606.7],[738,679.3],[762,738.3],[787,796.7]];
const classLines=[[178,751],[758,1089],[1095,1726],[1730,1969]];
const headerLines=[[98.3,297.7],[315,514],[525,724]];
const solidBoxes=[[930,2,1628,509],[930,619,1628,1140],[949,1182.7,1550,1374],[907,1517,1258,2058.8],[1271,1474,1586.5,1929]];
const dashedBoxes=[[914,1525,1101.4,2018],[1128,1525,1249.8,2012]];
function gradBar(c,k,x,y0,w,y1,tickYs){const g=c.createLinearGradient(0,y1,0,y0);for(let i=0;i<=24;i++)g.addColorStop(i/24,ramp(KIND[k].s,i/24));
  c.fillStyle=g;c.fillRect(x,y0,w,y1-y0);c.strokeStyle='#000';c.lineWidth=2;c.strokeRect(x,y0,w,y1-y0);
  tickYs.forEach(y=>{c.beginPath();c.moveTo(x+w,y);c.lineTo(x+w+7,y);c.stroke();});}
function hBar(c,x0,x1,y0,y1){const g=c.createLinearGradient(x0,0,x1,0);for(let i=0;i<=24;i++)g.addColorStop(i/24,ramp(piygStops,i/24));
  c.fillStyle=g;c.fillRect(x0,y0,x1-x0,y1-y0);c.strokeStyle='#000';c.lineWidth=1.6;c.strokeRect(x0,y0,x1-x0,y1-y0);
  [x0,(x0+x1)/2,x1].forEach(x=>{c.beginPath();c.moveTo(x,y1);c.lineTo(x,y1+4);c.stroke();});}
const overlay={id:'overlay',
 beforeDatasetsDraw(ch){const c=ch.ctx,X=ch.scales.x,Y=ch.scales.y;c.save();elec.forEach(e=>{const ax=X.getPixelForValue(e.a.x),ay=Y.getPixelForValue(e.a.y),bx=X.getPixelForValue(e.b.x),by=Y.getPixelForValue(e.b.y);
   const d=Math.hypot(bx-ax,by-ay),ux=(bx-ax)/d,uy=(by-ay)/d,mx=(ax+bx)/2,my=(ay+by)/2;c.strokeStyle=e.color;c.lineWidth=e.w;
   [-1,1].forEach(s=>{const px=mx+ux*s*e.gap/2,py=my+uy*s*e.gap/2;c.beginPath();c.moveTo(px-uy*e.hl,py+ux*e.hl);c.lineTo(px+uy*e.hl,py-ux*e.hl);c.stroke();});});c.restore();},
 beforeDatasetDraw(ch,args){if(!ch.data.datasets[args.index].isFirstNodeSet)return;const c=ch.ctx;c.save();c.strokeStyle='#111';c.lineWidth=2.6;
   solidBoxes.forEach(b=>c.strokeRect(b[0],b[1],b[2]-b[0],b[3]-b[1]));
   c.setLineDash([17,9]);dashedBoxes.forEach(b=>c.strokeRect(b[0],b[1],b[2]-b[0],b[3]-b[1]));c.restore();},
 afterDatasetsDraw(ch){const c=ch.ctx,X=ch.scales.x,Y=ch.scales.y;c.save();
   c.textAlign='center';c.textBaseline='middle';c.font="17.5px 'Liberation Sans',Arial,sans-serif";c.lineWidth=.55;
   nodeLabels.forEach(([names,xs,ys,white])=>names.forEach((n,i)=>{const col=white.includes(key(n))?'#fff':'#000';c.fillStyle=col;c.strokeStyle=col;
     const px=X.getPixelForValue(xs[i]),py=Y.getPixelForValue(ys[i]),parts=n.split('|');
     parts.forEach((s,j)=>{const yy=py+(j-(parts.length-1)/2)*15;c.fillText(s,px,yy+1);c.strokeText(s,px,yy+1);});}));
   c.strokeStyle='#000';c.lineWidth=2.2;c.lineCap='butt';
   connectors.forEach(([a,b])=>{c.beginPath();c.moveTo(a,BOT);c.lineTo(b,CY0);c.stroke();});
   classLines.forEach(([a,b])=>{c.lineWidth=2.5;c.beginPath();c.moveTo(22,a);c.lineTo(22,b);c.stroke();});
   headerLines.forEach(([a,b])=>{c.lineWidth=2;c.beginPath();c.moveTo(a,21.5);c.lineTo(b,21.5);c.stroke();});
   colorbars.forEach(b=>gradBar(c,b.k,b.x,CY0,8.3,CY1,b.ticks.map(t=>CY1-(CY1-CY0)*KIND[b.k].n(t[0]))));
   gradBar(c,'half',miniBar.x,miniBar.y0,miniBar.w,miniBar.y1,miniBar.ticks.map(t=>miniBar.y1-(miniBar.y1-miniBar.y0)*KIND.half.n(t[0])));
   hBar(c,936,1066.5,561.5,569);hBar(c,1299,1429.3,1850.6,1858);
   /* legend glyphs */
   c.strokeStyle='#000';c.lineWidth=2.4;c.fillStyle='#fff';
   [[1123,556,15],[1123.7,593,7.5],[1365,594,10.5]].forEach(([x,y,r])=>{c.beginPath();c.arc(x,y,r,0,7);c.fill();c.stroke();});
   c.fillStyle='#8c8c8c';c.fillRect(1354.4,546,21,21);
   c.strokeStyle='#a6a6a6';c.lineWidth=2.2;[[1218.6,1251,556.4],[1218.6,1251,593]].forEach(([a,b,y])=>{c.beginPath();c.moveTo(a,y);c.lineTo(b,y);c.stroke();});
   [1232,1238].forEach(x=>{c.beginPath();c.moveTo(x,587);c.lineTo(x,599);c.stroke();});
   c.lineWidth=2;c.beginPath();c.moveTo(1464,556);c.lineTo(1485,556);c.stroke();c.lineWidth=6;c.beginPath();c.moveTo(1464,594);c.lineTo(1485,594);c.stroke();
   c.restore();}};
new Chart(cv,{type:'bubble',data:{datasets},options:{responsive:false,animation:false,events:[],layout:{autoPadding:false,padding:0},
  plugins:{legend:{display:false},tooltip:{enabled:false}},
  scales:{x:{type:'linear',min:0,max:1629,display:false},y:{type:'linear',min:0,max:2100,reverse:true,display:false}}},plugins:[overlay]});
</script></body></html>
